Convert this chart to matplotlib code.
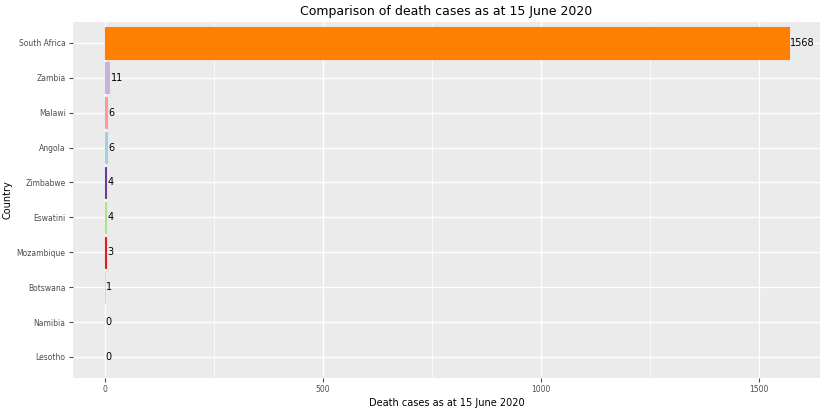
import matplotlib.pyplot as plt

countries = ["Lesotho", "Namibia", "Botswana", "Mozambique", "Eswatini",
             "Zimbabwe", "Angola", "Malawi", "Zambia", "South Africa"]
deaths = [0, 0, 1, 3, 4, 4, 6, 6, 11, 1568]
colors = ["#FFFF99", "#B15928", "#C6DBEF", "#E31A1C", "#B2DF8A",
          "#6A3D9A", "#A6CEE3", "#FB9A99", "#CAB2D6", "#FF7F00"]

fig = plt.figure(figsize=(8.26, 4.13), dpi=100)
ax = fig.add_axes([0.088, 0.085, 0.905, 0.862])
ax.set_facecolor("#EBEBEB")
widths = [0.8 if v > 0 else 0 for v in deaths]
ax.barh(countries, deaths, color=colors, edgecolor=colors, linewidth=widths,
        height=0.9, zorder=2)
for i, v in enumerate(deaths):
    ax.text(v + 3, i, str(v), va="center", ha="left", fontsize=7, zorder=3)

ax.set_xlim(-73, 1640)
ax.set_ylim(-0.6, 9.6)
ax.set_xticks([0, 500, 1000, 1500])
ax.set_xticks([250, 750, 1250], minor=True)
ax.grid(True, which="major", color="white", linewidth=1.0, zorder=0)
ax.grid(True, which="minor", axis="x", color="white", linewidth=0.5, zorder=0)
for s in ax.spines.values():
    s.set_visible(False)
ax.tick_params(labelsize=5.5, colors="#4D4D4D", length=3, pad=2)
ax.tick_params(which="minor", length=0)
ax.set_xlabel("Death cases as at 15 June 2020", fontsize=7, labelpad=3)
ax.set_ylabel("Country", fontsize=7, labelpad=3)
ax.set_title("Comparison of death cases as at 15 June 2020", fontsize=9, pad=5)
fig.savefig("out.png", dpi=100)
